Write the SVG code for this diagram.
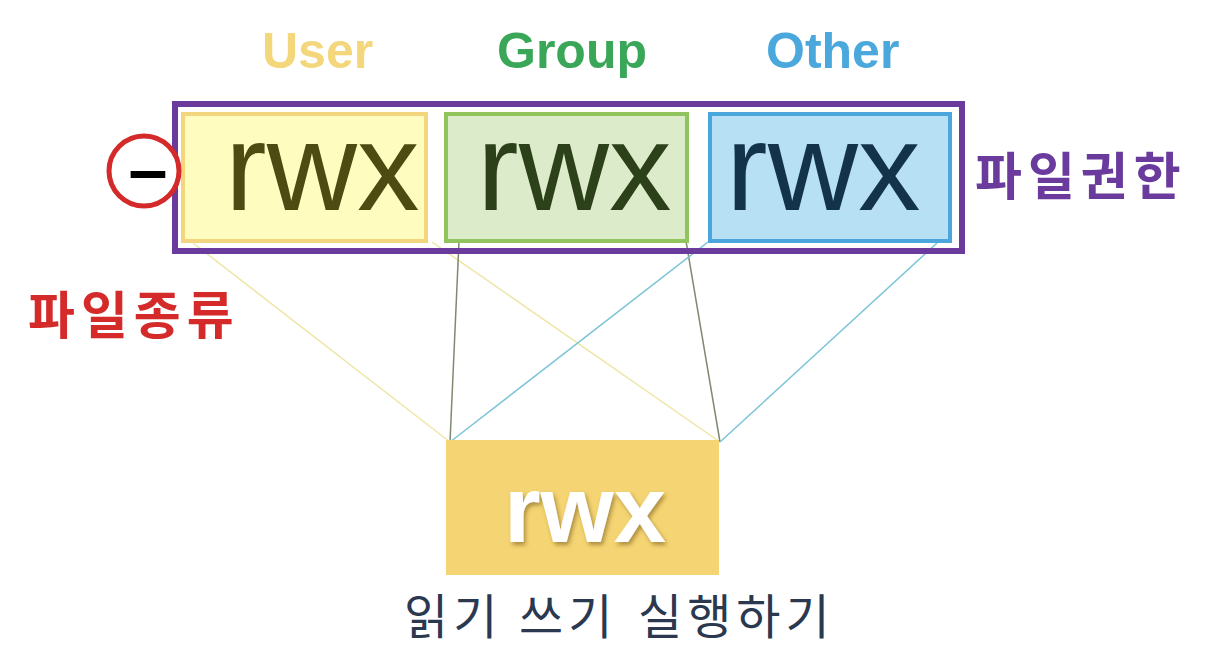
<svg xmlns="http://www.w3.org/2000/svg" width="1206" height="660" viewBox="0 0 1206 660">
  <defs>
    <filter id="shadow" x="-20%" y="-20%" width="140%" height="140%">
      <feDropShadow dx="2" dy="3" stdDeviation="2" flood-color="#7a6020" flood-opacity="0.6"/>
    </filter>
  </defs>
  <style>
    .lbl { font-family: "Liberation Sans", "Noto Sans CJK KR", sans-serif; font-weight: bold; font-size: 50px; }
    .kr { font-family: "Noto Sans CJK KR", sans-serif; }
    .big { font-family: "Liberation Sans", Arial, sans-serif; font-size: 125px; }
    .conn { fill: none; stroke-width: 1.5; }
  </style>
  <rect width="1206" height="660" fill="#ffffff"/>

  <g id="labels">
    <text class="lbl" x="262" y="68" fill="#f3d77a">User</text>
    <text class="lbl" x="497" y="68" fill="#3aa657">Group</text>
    <text class="lbl" x="766" y="68" fill="#4aa8dc">Other</text>
  </g>

  <g id="connectors">
    <line class="conn" x1="193" y1="243" x2="450" y2="442" stroke="#eee6a8"/>
    <line class="conn" x1="432" y1="242" x2="720" y2="442" stroke="#eee6a8"/>
    <line class="conn" x1="459" y1="241" x2="450" y2="442" stroke="#7f8a70"/>
    <line class="conn" x1="686" y1="241" x2="720" y2="442" stroke="#7f8a70"/>
    <line class="conn" x1="708" y1="242" x2="450" y2="442" stroke="#7cc4d8"/>
    <line class="conn" x1="937" y1="243" x2="720" y2="442" stroke="#7cc4d8"/>
  </g>

  <g id="permission-frame">
    <rect x="175" y="104" width="787" height="147" fill="none" stroke="#6a3a9c" stroke-width="6"/>
  </g>

  <g id="user-box">
    <rect x="183" y="114" width="243" height="127" fill="#fffcbf" stroke="#f2d57c" stroke-width="4"/>
    <text class="big" x="225" y="210" fill="#4d4a12">rwx</text>
  </g>

  <g id="group-box">
    <rect x="446" y="114" width="241" height="127" fill="#dcebc9" stroke="#92c45e" stroke-width="4"/>
    <text class="big" x="477" y="210" fill="#2c4019">rwx</text>
  </g>

  <g id="other-box">
    <rect x="710" y="114" width="240" height="127" fill="#b8e0f5" stroke="#4aa6dc" stroke-width="4"/>
    <text class="big" x="726" y="210" fill="#12334a">rwx</text>
  </g>

  <g id="file-type">
    <circle cx="144" cy="171" r="35" fill="#ffffff" stroke="#d42a2a" stroke-width="5"/>
    <text x="148" y="193" text-anchor="middle" font-family="Liberation Sans, sans-serif" font-weight="bold" font-size="70" fill="#000000">–</text>
  </g>

  <g id="file-type-label">
    <text class="kr" x="28" y="334" font-size="51" font-weight="bold" letter-spacing="6" fill="#d42a2a">파일종류</text>
  </g>

  <g id="permission-label">
    <text class="kr" x="975" y="195" font-size="51" font-weight="bold" letter-spacing="6" fill="#6a3a9c">파일권한</text>
  </g>

  <g id="rwx-box">
    <rect x="446" y="440" width="273" height="135" fill="#f5d473"/>
    <text x="585" y="542" text-anchor="middle" font-family="Liberation Sans, sans-serif" font-weight="bold" font-size="94" fill="#ffffff" filter="url(#shadow)">rwx</text>
  </g>

  <g id="rwx-desc">
    <text class="kr" y="634" font-size="48" letter-spacing="5" fill="#2a3850"><tspan x="404">읽기</tspan><tspan x="519">쓰기</tspan><tspan x="638">실행하기</tspan></text>
  </g>
</svg>
